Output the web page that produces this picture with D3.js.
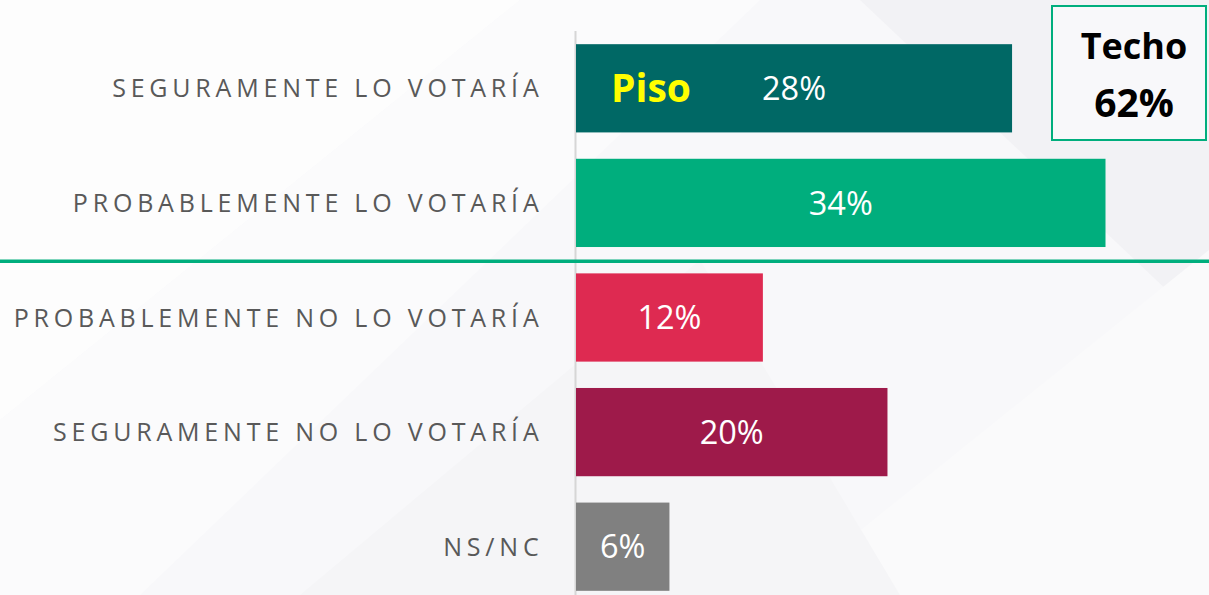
<!DOCTYPE html>
<html><head><meta charset="utf-8">
<script src="https://cdn.jsdelivr.net/npm/d3@7"></script>
<style>html,body{margin:0;padding:0;background:#fff;overflow:hidden}</style>
</head><body><svg id="c" width="1209" height="595"></svg>
<script>
const categories = ["SEGURAMENTE LO VOTARÍA","PROBABLEMENTE LO VOTARÍA","PROBABLEMENTE NO LO VOTARÍA","SEGURAMENTE NO LO VOTARÍA","NS/NC"];
const values = [28, 34, 12, 20, 6];
const colors = ["#006865","#00AE7D","#DE2A51","#9E1A4A","#808080"];
const floorLabel = "Piso";
const ceilingLabel = ["Techo", "62%"];

const svg = d3.select("#c");
const W = 1209, H = 595;

// background
const bg = svg.append("g");
bg.append("rect").attr("width",W).attr("height",H).attr("fill","#f8f8fa");
const shapes = [
  [[0,0],[520,0],[0,420]],
  [[0,420],[520,0],[760,0],[140,595],[0,595]],
  [[860,0],[1209,0],[1209,330]],
  [[780,595],[1209,250],[1209,595]],
  [[300,595],[700,260],[900,595]]
];
const shapeFills = ["#fdfdfd","#fbfbfc","#f2f2f5","#fafafb","#f5f5f7"];
bg.selectAll("path.s").data(shapes).join("path")
  .attr("d", d => "M" + d.map(p => p.join(",")).join("L") + "Z")
  .attr("fill", (d,i) => shapeFills[i]);

const x = d3.scaleLinear().domain([0, 34]).range([576, 1105.5]);
const y = d3.scaleBand().domain(categories).range([31, 604]).paddingInner(0.23).paddingOuter(0.115);

// axis line
svg.append("line").attr("x1",575.5).attr("x2",575.5).attr("y1",31).attr("y2",H)
  .attr("stroke","#d6d6d6").attr("stroke-width",2);

// bars
svg.selectAll("rect.bar").data(values).join("rect")
  .attr("x", x(0)).attr("y",(d,i)=>y(categories[i]))
  .attr("width", d => x(d)-x(0)).attr("height", y.bandwidth())
  .attr("fill",(d,i)=>colors[i]);

// value labels
svg.selectAll("text.val").data(values).join("text")
  .attr("x", d => (x(0)+x(d))/2)
  .attr("y",(d,i)=>y(categories[i])+y.bandwidth()/2)
  .attr("dy","0.36em").attr("text-anchor","middle")
  .attr("font-family","'Open Sans', sans-serif").attr("font-size",32.5)
  .attr("fill","#fff").text(d => d + "%");

// category labels
svg.selectAll("text.cat").data(categories).join("text")
  .attr("x", 543.5).attr("y", d => y(d)+y.bandwidth()/2)
  .attr("dy","0.36em").attr("text-anchor","end")
  .attr("font-family","'Open Sans', sans-serif").attr("font-size",25)
  .attr("letter-spacing","4.8px")
  .attr("fill","#595959").text(d => d);

// divider line
const divY = (y(categories[1])+y.bandwidth()+y(categories[2]))/2 + 1;
svg.append("line").attr("x1",0).attr("x2",W)
  .attr("y1",divY).attr("y2",divY)
  .attr("stroke","#00AE7D").attr("stroke-width",3.5);

// Piso
svg.append("text").attr("x", x(0)+35).attr("y", y(categories[0])+y.bandwidth()/2)
  .attr("dy","0.36em").attr("font-family","'Open Sans', sans-serif").attr("font-weight","bold")
  .attr("font-size",39).attr("fill","#FFFF00").text(floorLabel);

// Techo box
svg.append("rect").attr("x",1052).attr("y",6).attr("width",154).attr("height",134)
  .attr("fill","#f8f8fa").attr("stroke","#00AE7D").attr("stroke-width",2);
svg.selectAll("text.techo").data(ceilingLabel).join("text")
  .attr("x",1134).attr("y",(d,i)=> 46 + i*57).attr("dy","0.36em").attr("text-anchor","middle")
  .attr("font-family","'Open Sans', sans-serif").attr("font-weight","bold")
  .attr("font-size",(d,i)=> i===0 ? 36 : 39).attr("fill","#000").text(d=>d);
</script></body></html>
